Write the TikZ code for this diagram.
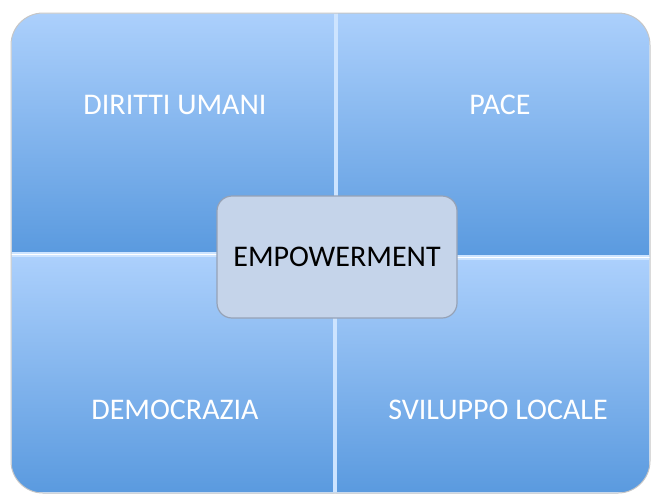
\documentclass[tikz,border=0pt]{standalone}
\usepackage{fontspec}
\setmainfont{Carlito}
\usepackage{tikz}
\definecolor{quadTop}{RGB}{172,208,252}
\definecolor{quadBottom}{RGB}{90,154,223}
\definecolor{quadEdge}{RGB}{205,228,255}
\definecolor{coreFill}{RGB}{197,212,234}
\definecolor{coreEdge}{RGB}{150,162,182}

\begin{document}
\begin{tikzpicture}[x=0.5pt, y=-0.5pt,
		quad/.style={top color=quadTop, bottom color=quadBottom, draw=quadEdge, line width=0.6pt, inner sep=0pt, outer sep=0pt},
		quadtext/.style={text=white, font=\fontsize{15}{18}\selectfont},
		core/.style={fill=coreFill, draw=coreEdge, line width=0.6pt, rounded corners=7.5pt, minimum width=120pt, minimum height=61pt, font=\fontsize{15}{18}\selectfont}]
		\useasboundingbox (0,0) rectangle (652,495);

		\begin{scope}
			\clip[rounded corners=16pt] (11,13) rectangle (650,493);
			\node[quad, minimum width=162pt, minimum height=120pt] (dirittiBox) at (173,133) {};
			\node[quad, minimum width=156.5pt, minimum height=122pt] (paceBox) at (493.5,134) {};
			\node[quad, minimum width=161.5pt, minimum height=118.5pt] (democraziaBox) at (172.5,374.5) {};
			\node[quad, minimum width=157pt, minimum height=117pt] (sviluppoBox) at (493,376) {};
		\end{scope}
		\draw[gray!45, line width=0.5pt, rounded corners=16pt] (11,13) rectangle (650,493);

		\node[quadtext] (diritti) at (175,105) {DIRITTI UMANI};
		\node[quadtext] (pace) at (500,105) {PACE};
		\node[quadtext] (democrazia) at (175,410) {DEMOCRAZIA};
		\node[quadtext] (sviluppo) at (498,410) {SVILUPPO LOCALE};

		\node[core] (empowerment) at (337,257) {EMPOWERMENT};
	\end{tikzpicture}
\end{document}
